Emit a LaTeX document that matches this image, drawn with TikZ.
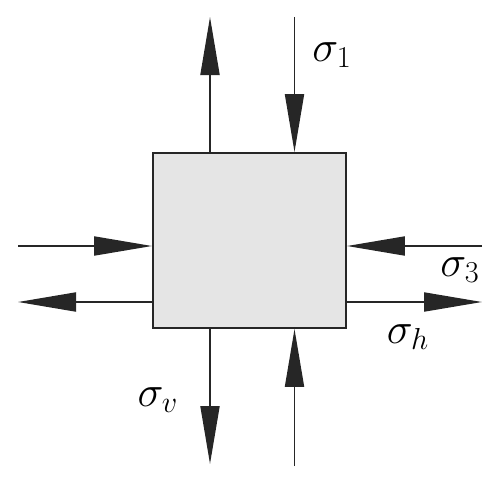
\documentclass[tikz,border=0pt]{standalone}
\usepackage{amsmath, amssymb}
\usetikzlibrary{arrows.meta}

\begin{document}
\begin{tikzpicture}[
    blk/.style={draw=black!85, fill=black!10, line width=1.1pt, minimum width=3.86cm, minimum height=3.5cm, inner sep=0pt},
    force/.style={draw=black!85, line width=1.1pt, -{Triangle[length=1.16cm, width=0.38cm]}},
    lbl/.style={font=\fontsize{26}{30}\selectfont, inner sep=0pt}
    ]
    \useasboundingbox (0,0) rectangle (10,9.66);
    \node[blk] (B) at (4.99,4.85) {};
    \coordinate (T1) at (4.2,9.32); \coordinate (T2) at (5.89,9.32);
    \coordinate (D1) at (4.2,0.38); \coordinate (D2) at (5.89,0.34);
    \coordinate (L1) at (0.36,4.74); \coordinate (L2) at (0.36,3.62);
    \coordinate (R1) at (9.64,4.74); \coordinate (R2) at (9.64,3.62);
    \draw[force] (B.north -| T1) -- (T1);
    \draw[force] (T2) -- (B.north -| T2);
    \draw[force] (B.south -| D1) -- (D1);
    \draw[force] (D2) -- (B.south -| D2);
    \draw[force] (L1) -- (B.west |- L1);
    \draw[force] (B.west |- L2) -- (L2);
    \draw[force] (R1) -- (B.east |- R1);
    \draw[force] (B.east |- R2) -- (R2);
    \node[lbl] (s1) at (6.64,8.56) {$\sigma_1$};
    \node[lbl] (s3) at (9.2,4.26) {$\sigma_3$};
    \node[lbl] (sh) at (8.16,2.92) {$\sigma_h$};
    \node[lbl] (sv) at (3.16,1.66) {$\sigma_v$};
\end{tikzpicture}
\end{document}
